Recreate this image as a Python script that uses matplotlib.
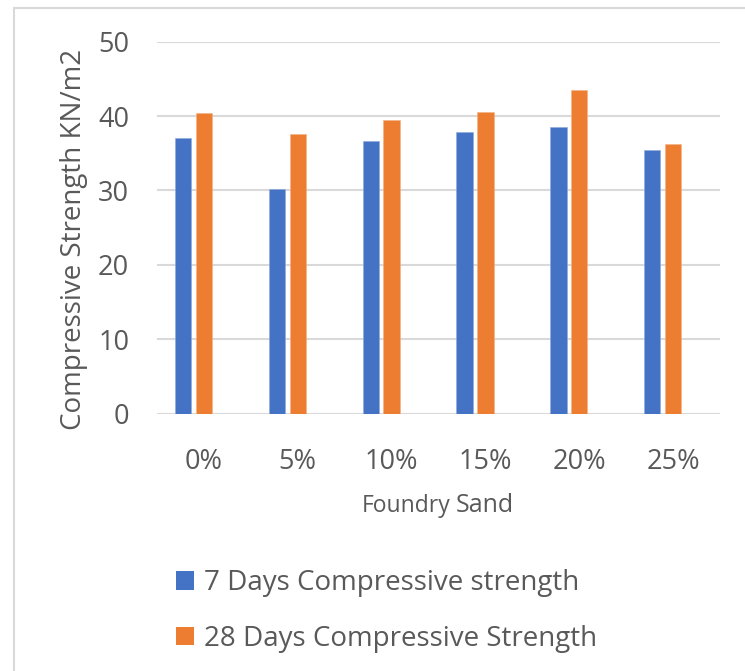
import matplotlib
matplotlib.use("Agg")
import matplotlib.pyplot as plt
from matplotlib.patches import Patch, Rectangle
import numpy as np

categories = ["0%", "5%", "10%", "15%", "20%", "25%"]
days_7 = [37.1, 30.2, 36.6, 37.8, 38.5, 35.4]
days_28 = [40.4, 37.6, 39.5, 40.5, 43.5, 36.2]
series_names = ["7 Days Compressive strength", "28 Days Compressive Strength"]
y_ticks = [0, 10, 20, 30, 40, 50]

BLUE = "#4472C4"
ORANGE = "#ED7D31"
TEXT = "#595959"
GRID = "#D9D9D9"

plt.rcParams["font.family"] = ["Open Sans", "DejaVu Sans"]

W, H = 745, 671
fig = plt.figure(figsize=(W / 100, H / 100), dpi=100)

# outer chart border (cropped on the right/bottom in the reference)
fig.patches.append(Rectangle((14 / W, -0.1), 1.1, 1 - 8 / H + 0.1,
                             transform=fig.transFigure, fill=False,
                             edgecolor=GRID, linewidth=1.5))

ax = fig.add_axes([157 / W, 1 - 413.5 / H, 563 / W, 371.8 / H])
x = np.arange(len(categories))
width = 0.174
ax.bar(x - 0.222, days_7, width, color=BLUE, edgecolor="#8FAADC", linewidth=0.4, zorder=3)
ax.bar(x, days_28, width, color=ORANGE, edgecolor="#F4B183", linewidth=0.4, zorder=3)

ax.set_xlim(-0.5, len(categories) - 0.5)
ax.set_ylim(0, 50)
ax.set_yticks(y_ticks)
ax.set_xticks(x)
ax.set_xticklabels(categories)
ax.tick_params(axis="both", length=0, labelsize=19.5, colors=TEXT)
ax.tick_params(axis="x", pad=25)
ax.tick_params(axis="y", pad=20)
ax.grid(axis="y", color=GRID, linewidth=1.5, zorder=0)
for s in ax.spines.values():
    s.set_visible(False)

ax.set_ylabel("Compressive Strength KN/m2", fontsize=20, color=TEXT)
ax.yaxis.set_label_coords(-0.1225, 0.469)

# x axis title: mixed sizes
fig.text(450 / W, 1 - 512 / H, "Foundry", fontsize=16.5, color=TEXT,
         ha="right", va="baseline")
fig.text(456 / W, 1 - 512 / H, "Sand", fontsize=18, color=TEXT,
         ha="left", va="baseline")

handles = [Patch(facecolor=BLUE, edgecolor="none"), Patch(facecolor=ORANGE, edgecolor="none")]
fig.legend(handles, series_names, loc="upper left",
           bbox_to_anchor=(176 / W, 1 - 569 / H), frameon=False,
           fontsize=20, labelcolor=TEXT, handlelength=0.65, handleheight=0.65,
           handletextpad=0.36, labelspacing=1.0, borderpad=0, borderaxespad=0)

fig.savefig("out.png", dpi=100)
